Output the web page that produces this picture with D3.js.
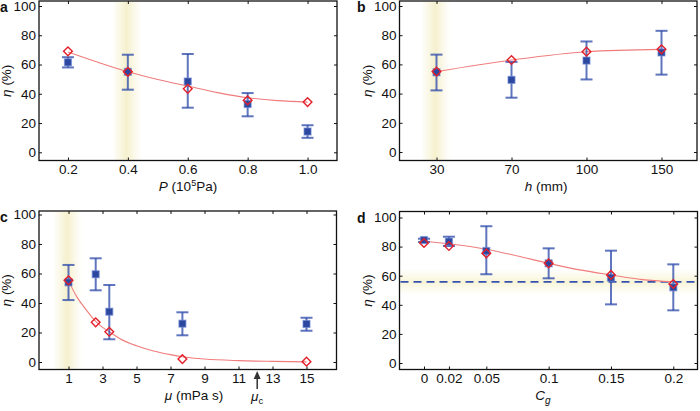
<!DOCTYPE html>
<html>
<head>
<meta charset="utf-8">
<script src="https://cdn.jsdelivr.net/npm/d3@7"></script>
<style>
  body { margin: 0; background: #fff; }
  svg text { font-family: "Liberation Sans", Arial, sans-serif; fill: #111; }
</style>
</head>
<body>
<script>
// panel a : pressure
const pValues   = [0.2, 0.4, 0.6, 0.8, 1.0];
const pMeasured = [61.5, 55, 48.4, 33, 14.2];
const pErrLow   = [58, 42.8, 30.5, 24.6, 9.9];
const pErrHigh  = [65, 66.7, 67.2, 40.5, 18.5];
const pModel    = [69, 55, 43.4, 35.5, 34.3];
const pFitX     = [0.2, 0.3, 0.4, 0.5, 0.6, 0.7, 0.8, 0.9, 1.0];
const pFitY     = [68.5, 61.5, 55, 49.7, 45.3, 40.8, 37.3, 35.3, 34.3];
const pHighlight = 0.4;

// panel b : height
const hValues   = ["30", "70", "100", "150"];
const hMeasured = [54.6, 49.4, 62.6, 68.2];
const hErrLow   = [42.2, 37.2, 49.7, 53];
const hErrHigh  = [66.7, 61.7, 75.7, 83];
const hModel    = [55.1, 63, 68.7, 70.3];
const hHighlight = "30";

// panel c : viscosity
const muValues   = [1, 2.6, 3.4, 7.7, 15];
const muMeasured = [54, 59.5, 34.1, 26, 25.8];
const muErrLow   = [42, 48.6, 15.4, 18.1, 21.2];
const muErrHigh  = [65.8, 70.3, 52.2, 33.7, 30];
const muModel    = [55.4, 26.9, 20.5, 2, 0.2];
const muFitX     = [1, 1.5, 2, 2.6, 3, 3.4, 4, 5, 6, 7, 7.7, 9, 11, 13, 15];
const muFitY     = [55, 44, 36, 27.5, 23.5, 20.5, 16, 11, 7.5, 5, 3.6, 2, 0.9, 0.4, 0.1];
const muTicks    = [1, 3, 5, 7, 9, 11, 13, 15];
const muHighlight = 1;
const muCritical  = 12.1;

// panel d : Cg
const cgValues   = [0, 0.02, 0.05, 0.1, 0.15, 0.2];
const cgMeasured = [84.5, 83.4, 77, 68.5, 58.6, 52];
const cgErrLow   = [83.2, 80.4, 61, 58.2, 40.3, 36.2];
const cgErrHigh  = [85.4, 86.8, 94, 78.8, 77.2, 67.8];
const cgModel    = [82.5, 80.4, 75.4, 68.5, 60.5, 54.3];
const cgFitX     = [0, 0.02, 0.05, 0.075, 0.1, 0.125, 0.15, 0.175, 0.2];
const cgFitY     = [83.5, 82, 78.2, 73.5, 68.5, 64, 60.5, 57.3, 55.8];
const cgReference = 55.7;
const cgBand      = [46.5, 65];

const yTicks = [0, 20, 40, 60, 80, 100];

const width = 700, height = 411;
const svg = d3.select("body").append("svg")
  .attr("width", width)
  .attr("height", height);

const defs = svg.append("defs");
const gv = defs.append("linearGradient").attr("id", "bandV").attr("x1", "0").attr("x2", "1").attr("y1", "0").attr("y2", "0");
gv.append("stop").attr("offset", "0%").attr("stop-color", "#f8f4d8").attr("stop-opacity", 0.2);
gv.append("stop").attr("offset", "45%").attr("stop-color", "#f5f0cc").attr("stop-opacity", 1);
gv.append("stop").attr("offset", "100%").attr("stop-color", "#f8f4d8").attr("stop-opacity", 0);
const gh = defs.append("linearGradient").attr("id", "bandH").attr("x1", "0").attr("x2", "0").attr("y1", "0").attr("y2", "1");
gh.append("stop").attr("offset", "0%").attr("stop-color", "#faf7e0").attr("stop-opacity", 0);
gh.append("stop").attr("offset", "50%").attr("stop-color", "#f8f4d6").attr("stop-opacity", 1);
gh.append("stop").attr("offset", "100%").attr("stop-color", "#faf7e0").attr("stop-opacity", 0);

const errColor = "rgba(50,78,172,0.78)";
const sqColor = "#2b47a0";
const redColor = "#e3202a";
const fitColor = "#f07c7c";

function drawPanel(p) {
  const g = svg.append("g");
  const { box, x, y } = p;

  // highlight band
  if (p.band) p.band(g);

  // axes with inward ticks
  const xAxis = (p.xAxisFn || d3.axisBottom)(x).tickSizeInner(-3).tickSizeOuter(0).tickPadding(4);
  if (p.xTicks) xAxis.tickValues(p.xTicks);
  if (p.xFormat) xAxis.tickFormat(p.xFormat);
  g.append("g").attr("transform", `translate(0,${box.y1})`).call(xAxis)
    .call(s => s.select(".domain").remove())
    .call(s => s.selectAll("text").attr("font-size", 13.5).attr("fill", "#111"));
  const xTop = d3.axisTop(x).tickSizeInner(-3).tickSizeOuter(0).tickFormat("");
  if (p.xTicks) xTop.tickValues(p.xTicks);
  g.append("g").attr("transform", `translate(0,${box.y0})`).call(xTop)
    .call(s => s.select(".domain").remove());

  const yAxis = d3.axisLeft(y).tickValues(yTicks).tickSizeInner(-3).tickSizeOuter(0).tickPadding(3);
  g.append("g").attr("transform", `translate(${box.x0},0)`).call(yAxis)
    .call(s => s.select(".domain").remove())
    .call(s => s.selectAll("text").attr("font-size", 13.5).attr("fill", "#111"));
  g.append("g").attr("transform", `translate(${box.x1},0)`)
    .call(d3.axisRight(y).tickValues(yTicks).tickSizeInner(-3).tickSizeOuter(0).tickFormat(""))
    .call(s => s.select(".domain").remove());
  g.selectAll(".tick line").attr("stroke", "#111").attr("stroke-width", 1);

  // box
  g.append("rect")
    .attr("x", box.x0).attr("y", box.y0)
    .attr("width", box.x1 - box.x0).attr("height", box.y1 - box.y0)
    .attr("fill", "none").attr("stroke", "#111").attr("stroke-width", 1.3);

  if (p.extra) p.extra(g);

  // fit line
  const line = d3.line().x(d => x(d[0])).y(d => y(d[1])).curve(d3.curveMonotoneX);
  g.append("path")
    .datum(d3.zip(p.fitX, p.fitY))
    .attr("d", line)
    .attr("fill", "none")
    .attr("stroke", fitColor)
    .attr("stroke-width", 1.1);

  const pts = p.xs.map((v, i) => ({ x: v, m: p.measured[i], lo: p.lo[i], hi: p.hi[i], model: p.model[i] }));

  // error bars
  const eb = g.append("g").attr("stroke", errColor).attr("stroke-width", 2);
  eb.selectAll(".v").data(pts).join("line")
    .attr("x1", d => x(d.x)).attr("x2", d => x(d.x))
    .attr("y1", d => y(d.lo)).attr("y2", d => y(d.hi));
  eb.selectAll(".cl").data(pts).join("line")
    .attr("x1", d => x(d.x) - 6).attr("x2", d => x(d.x) + 6)
    .attr("y1", d => y(d.lo)).attr("y2", d => y(d.lo));
  eb.selectAll(".ch").data(pts).join("line")
    .attr("x1", d => x(d.x) - 6).attr("x2", d => x(d.x) + 6)
    .attr("y1", d => y(d.hi)).attr("y2", d => y(d.hi));

  // measured squares
  g.selectAll(".sq").data(pts).join("rect")
    .attr("x", d => x(d.x) - 3.5).attr("y", d => y(d.m) - 3.5)
    .attr("width", 7).attr("height", 7)
    .attr("fill", sqColor)
    .attr("stroke", "rgba(110,135,210,0.6)").attr("stroke-width", 1.2);

  // model diamonds
  const diamond = d3.symbol(d3.symbolSquare, 38);
  g.selectAll(".dm").data(pts).join("path")
    .attr("d", diamond)
    .attr("transform", d => `translate(${x(d.x)},${y(d.model)}) rotate(45)`)
    .attr("fill", "none")
    .attr("stroke", redColor)
    .attr("stroke-width", 1.4);

  // panel letter
  g.append("text").attr("x", p.letterX).attr("y", box.y0 + 11)
    .attr("font-size", 14).attr("font-weight", "bold").text(p.letter);

  // y title
  const yt = g.append("text")
    .attr("transform", `translate(${box.x0 - 28},${(box.y0 + box.y1) / 2}) rotate(-90)`)
    .attr("text-anchor", "middle").attr("font-size", 13.5);
  yt.append("tspan").attr("font-style", "italic").text("η");
  yt.append("tspan").text(" (%)");

  // x title
  const xt = g.append("text")
    .attr("x", p.xTitleX).attr("y", box.y1 + 30)
    .attr("text-anchor", "middle").attr("font-size", 13.5);
  p.xTitle(xt);
}

// panel a
const xA = d3.scaleLinear().domain([0.1, 1.1]).range([38, 337.5]);
drawPanel({
  letter: "a", letterX: 0,
  box: { x0: 39, x1: 337, y0: 1, y1: 160.5 },
  x: xA,
  y: d3.scaleLinear().domain([0, 100]).range([152.3, 6]),
  xTicks: pValues, xFormat: d3.format(".1f"),
  xs: pValues, measured: pMeasured, lo: pErrLow, hi: pErrHigh, model: pModel,
  fitX: pFitX, fitY: pFitY,
  band: g => g.append("rect").attr("x", xA(pHighlight) - 14).attr("width", 28)
    .attr("y", 1.6).attr("height", 158.3).attr("fill", "url(#bandV)"),
  xTitleX: 188,
  xTitle: t => {
    t.append("tspan").attr("font-style", "italic").text("P");
    t.append("tspan").text(" (10");
    t.append("tspan").attr("dy", -5).attr("font-size", 9).text("5");
    t.append("tspan").attr("dy", 5).text("Pa)");
  }
});

// panel b
const xB = d3.scalePoint().domain(hValues).range([436.5, 661.5]);
drawPanel({
  letter: "b", letterX: 357,
  box: { x0: 399.5, x1: 697, y0: 1, y1: 160.5 },
  x: xB,
  y: d3.scaleLinear().domain([0, 100]).range([152, 6]),
  xs: hValues, measured: hMeasured, lo: hErrLow, hi: hErrHigh, model: hModel,
  fitX: hValues, fitY: hModel,
  band: g => g.append("rect").attr("x", xB(hHighlight) - 14).attr("width", 28)
    .attr("y", 1.6).attr("height", 158.3).attr("fill", "url(#bandV)"),
  xTitleX: 546,
  xTitle: t => {
    t.append("tspan").attr("font-style", "italic").text("h");
    t.append("tspan").text(" (mm)");
  }
});

// panel c
const xC = d3.scaleLinear().domain([1, 15]).range([68.5, 306.5]);
const yC = d3.scaleLinear().domain([0, 100]).range([362, 214.5]);
drawPanel({
  letter: "c", letterX: 0,
  box: { x0: 39, x1: 336.5, y0: 211, y1: 369.5 },
  x: xC, y: yC,
  xTicks: muTicks,
  xs: muValues, measured: muMeasured, lo: muErrLow, hi: muErrHigh, model: muModel,
  fitX: muFitX, fitY: muFitY,
  band: g => g.append("rect").attr("x", xC(muHighlight) - 14).attr("width", 28)
    .attr("y", 211.6).attr("height", 157.3).attr("fill", "url(#bandV)"),
  extra: g => {
    const ax = xC(muCritical);
    g.append("line").attr("x1", ax).attr("x2", ax).attr("y1", 389).attr("y2", 377)
      .attr("stroke", "#333").attr("stroke-width", 1.5);
    g.append("path").attr("d", `M${ax},371 L${ax - 3.5},379 L${ax + 3.5},379 Z`).attr("fill", "#333");
    const lt = g.append("text").attr("x", ax).attr("y", 401).attr("text-anchor", "middle").attr("font-size", 13.5);
    lt.append("tspan").attr("font-style", "italic").text("μ");
    lt.append("tspan").attr("dy", 3).attr("font-size", 9.5).text("c");
  },
  xTitleX: 194,
  xTitle: t => {
    t.append("tspan").attr("font-style", "italic").text("μ");
    t.append("tspan").text(" (mPa s)");
  }
});

// panel d
const xD = d3.scaleLinear().domain([0, 0.2]).range([424, 673.3]);
const yD = d3.scaleLinear().domain([0, 100]).range([363, 217.5]);
drawPanel({
  letter: "d", letterX: 357,
  box: { x0: 399.5, x1: 697.5, y0: 211.5, y1: 369.5 },
  x: xD, y: yD,
  xTicks: cgValues, xFormat: d => String(d),
  xs: cgValues, measured: cgMeasured, lo: cgErrLow, hi: cgErrHigh, model: cgModel,
  fitX: cgFitX, fitY: cgFitY,
  band: g => {
    g.append("rect").attr("x", 400.2).attr("width", 296.6)
      .attr("y", yD(cgBand[1])).attr("height", yD(cgBand[0]) - yD(cgBand[1]))
      .attr("fill", "url(#bandH)");
  },
  extra: g => {
    g.append("line").attr("x1", 400.5).attr("x2", 696.5)
      .attr("y1", yD(cgReference)).attr("y2", yD(cgReference))
      .attr("stroke", "#3552b0").attr("stroke-width", 1.8).attr("stroke-dasharray", "8,5");
  },
  xTitleX: 543,
  xTitle: t => {
    t.append("tspan").attr("font-style", "italic").text("C");
    t.append("tspan").attr("font-style", "italic").attr("dy", 4).attr("font-size", 10).text("g");
  }
});
</script>
</body>
</html>
